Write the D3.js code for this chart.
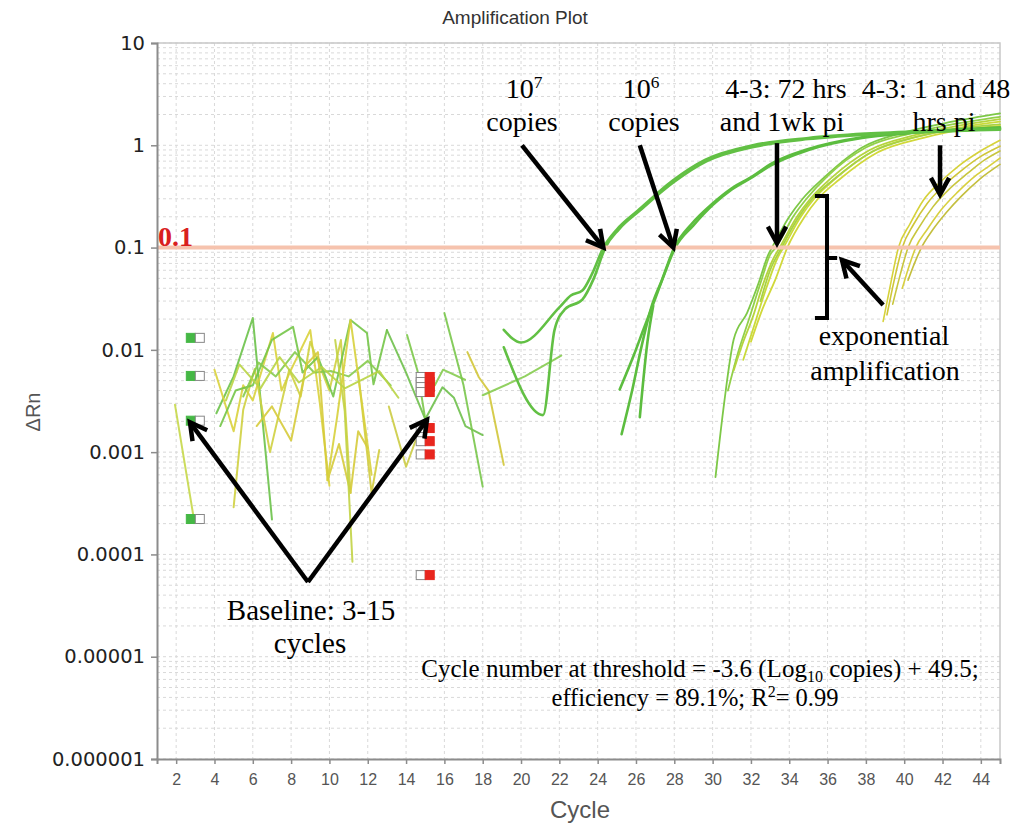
<!DOCTYPE html>
<html lang="en">
<head>
<meta charset="utf-8">
<title>Amplification Plot</title>
<script src="https://cdn.jsdelivr.net/npm/d3@7"></script>
<style>
  body { margin: 0; background: #fff; }
  svg { display: block; }
</style>
</head>
<body>
<script>
// ---- data ----
var xTicks = [2,4,6,8,10,12,14,16,18,20,22,24,26,28,30,32,34,36,38,40,42,44];
var yTicks = [10, 1, 0.1, 0.01, 0.001, 0.0001, 0.00001, 0.000001];
var yTickLabels = ["10","1","0.1","0.01","0.001","0.0001","0.00001","0.000001"];
var threshold = 0.1;

// baseline window markers (cycle 3 start, cycle 15 end)
var baselineStart = 3, baselineEnd = 15;
var startMarks = [0.0131, 0.00556, 0.00203, 0.000222];
var endMarks = [0.00543, 0.00485, 0.00433, 0.00387, 0.00172, 0.00128, 0.00095, 0.0000628];

// baseline noise, [cycle, dRn]
var noiseCurves = [
  [[1.94,0.0029],[2.88,0.00025]],
  [[4.1,0.0024],[5.0,0.0055],[6.0,0.0205],[7.0,0.00022]],
  [[4.0,0.0064],[5.0,0.0016],[5.5,0.0045],[6.0,0.0032],[7.05,0.0146],[7.5,0.004],[8.0,0.0064],[9.0,0.0156],[9.5,0.003],[10.0,0.00047]],
  [[5.0,0.00029],[5.5,0.0026],[6.1,0.0065],[6.9,0.001],[7.9,0.0064],[8.5,0.0035],[9.0,0.012],[10.0,0.004],[10.6,0.0125],[11.1,0.0004]],
  [[4.3,0.0018],[5.1,0.004],[6.0,0.0045],[7.0,0.0125],[8.1,0.0168],[8.6,0.006],[9.4,0.0085],[10.2,0.0035],[11.1,0.0196],[11.96,0.0146],[12.3,0.0046],[13.0,0.0156]],
  [[5.5,0.0035],[6.3,0.0075],[7.2,0.0055],[8.2,0.0095],[9.2,0.006],[10.1,0.0062],[11.0,0.0055],[12.0,0.0078],[13.2,0.0045]],
  [[6.2,0.0018],[7.0,0.0028],[8.0,0.0013],[8.8,0.0072],[9.4,0.0095],[9.9,0.00053],[10.5,0.0012],[11.1,0.0004],[11.5,0.0016],[12.0,0.0011]],
  [[10.3,0.0125],[10.8,0.0025],[11.2,0.000085]],
  [[11.5,0.006],[12.2,0.0004],[12.6,0.00105]],
  [[13.0,0.0156],[14.0,0.006],[15.0,0.0021],[15.9,0.0043],[16.5,0.0034],[17.1,0.0018],[18.0,0.00147]],
  [[14.05,0.014],[14.6,0.0062],[15.0,0.0021]],
  [[15.5,0.0045],[15.93,0.0064],[17.08,0.0051]],
  [[16.0,0.0229],[17.0,0.0045],[18.0,0.00046]],
  [[13.1,0.0028],[14.0,0.00072],[14.5,0.0013]],
  [[17.2,0.0095],[17.8,0.0054],[18.3,0.004],[19.1,0.00075]],
  [[18.0,0.0036],[20.2,0.0055],[22.1,0.0088]],
  [[9.9,0.00053],[10.4,0.0022],[11.1,0.0196],[11.9,0.0016],[12.2,0.0006]],
  [[4.6,0.0032],[5.3,0.0072],[6.4,0.0042],[7.4,0.0085],[8.4,0.0048],[9.6,0.0068],[10.8,0.0042],[12.6,0.0062],[13.6,0.0034]]
];
var noiseColors = ["#c6d84a","#6cc24a","#d9d23c","#cfd040","#74c548","#86cb4c","#d6cb3b",
  "#c2d345","#d2cc3e","#6fc04c","#7cc84a","#86cc50","#79c64b","#cccc44","#d2c63a","#86cc50","#d7d03c","#b9d445"];

// 10^7 copies
var curves1e7 = [
  [[19.1,0.0157],[20.0,0.0118],[22.0,0.026],[22.6,0.034],[23.2,0.038],[23.7,0.055],[24.3,0.1],[25.0,0.15],[26.1,0.23],[27.9,0.45],[29.6,0.72],[32.1,1.0],[35,1.18],[38,1.3],[41,1.38],[45,1.45]],
  [[19.1,0.0106],[21.15,0.0023],[21.75,0.0157],[22.3,0.025],[23.2,0.031],[23.8,0.05],[24.4,0.1],[25.1,0.15],[26.2,0.23],[28,0.44],[29.7,0.7],[32.2,0.97],[35,1.15],[38,1.27],[41,1.35],[45,1.42]]
];
// 10^6 copies
var curves1e6 = [
  [[25.25,0.0015],[25.8,0.004],[26.3,0.011],[26.8,0.026],[27.35,0.048],[28.0,0.1],[28.9,0.17],[30,0.27],[31,0.38],[32.1,0.5],[33,0.65],[35,0.92],[37.8,1.2],[40,1.33],[42.5,1.42],[45,1.5]],
  [[25.15,0.0041],[25.9,0.009],[26.4,0.016],[26.9,0.028],[27.4,0.05],[28.05,0.1],[29,0.165],[30,0.26],[31,0.37],[32.1,0.49],[33,0.63],[35,0.9],[37.8,1.18],[40,1.3],[42.5,1.38],[45,1.45]],
  [[26.2,0.0022],[26.6,0.012],[26.9,0.027]]
];
// 4-3: 72 hrs and 1 wk pi
var curves72h = [
  [[30.15,0.00057],[30.6,0.003],[31.1,0.0126],[31.8,0.023],[32.4,0.045],[32.9,0.085],[33.1,0.1],[34.0,0.2],[34.7,0.3],[35.8,0.48],[37.8,0.95],[40.1,1.35],[42.5,1.7],[45,2.05]],
  [[30.8,0.004],[31.3,0.009],[31.9,0.02],[32.5,0.045],[33.0,0.085],[33.3,0.1],[34.2,0.2],[34.9,0.3],[36,0.5],[38,0.95],[40.3,1.3],[42.5,1.6],[45,1.9]],
  [[31.1,0.0063],[31.6,0.012],[32.1,0.021],[32.6,0.042],[33.2,0.08],[33.5,0.1],[34.4,0.2],[35.1,0.3],[36.2,0.48],[38.2,0.9],[40.5,1.25],[42.8,1.55],[45,1.8]],
  [[31.6,0.008],[32.2,0.018],[32.8,0.04],[33.4,0.08],[33.7,0.1],[34.6,0.2],[35.3,0.3],[36.4,0.47],[38.4,0.88],[40.7,1.22],[43,1.5],[45,1.7]],
  [[32.5,0.03],[33.0,0.06],[33.6,0.1],[34.5,0.2],[35.2,0.3],[36.3,0.46],[38.3,0.86],[40.6,1.2],[42.8,1.45],[45,1.6]],
  [[32.0,0.012],[32.6,0.025],[33.3,0.05],[33.9,0.1],[34.8,0.2],[35.5,0.3],[36.6,0.46],[38.6,0.85],[41,1.18],[43,1.42],[45,1.55]]
];
var colors72h = ["#7dc847","#92d04a","#b5d43e","#c9da3a","#a7d244","#d1d83a"];
// 4-3: 1 and 48 hrs pi
var curves1h48h = [
  [[38.9,0.019],[39.3,0.045],[39.7,0.1],[40.3,0.17],[41.0,0.29],[41.9,0.44],[42.8,0.62],[43.9,0.86],[45,1.12]],
  [[39.1,0.022],[39.5,0.05],[39.9,0.1],[40.5,0.17],[41.2,0.27],[42.1,0.41],[43.0,0.57],[44.0,0.78],[45,0.98]],
  [[39.4,0.028],[39.8,0.055],[40.2,0.1],[40.8,0.16],[41.5,0.25],[42.4,0.38],[43.3,0.53],[44.2,0.72],[45,0.88]],
  [[39.9,0.04],[40.3,0.07],[40.6,0.1],[41.2,0.15],[41.9,0.23],[42.8,0.35],[43.7,0.5],[44.5,0.64],[45,0.75]],
  [[40.2,0.048],[40.6,0.075],[40.9,0.1],[41.5,0.15],[42.2,0.22],[43.0,0.32],[43.9,0.46],[45,0.65]]
];
var colors1h48h = ["#d6d23a","#cfc638","#c8c63e","#d8d040","#c4bf3e"];

// ---- drawing ----
var w = 1029, h = 825;
var x = d3.scaleLinear().domain([1, 45]).range([157, 1000]);
var y = d3.scaleLog().domain([1e-6, 10]).range([759, 43]);

var svg = d3.select("body").append("svg")
  .attr("width", w).attr("height", h);

var serif = "'Liberation Serif', 'Times New Roman', serif";
var sans = "'Liberation Sans', Arial, sans-serif";

// grid
var grid = svg.append("g").attr("stroke", "#d9d9d9").attr("stroke-dasharray", "3,3").attr("stroke-width", 1);
grid.selectAll("line.h").data(y.ticks()).enter().append("line")
  .attr("x1", x(1)).attr("x2", x(45))
  .attr("y1", function(d){ return y(d); }).attr("y2", function(d){ return y(d); });
grid.selectAll("line.v").data(xTicks).enter().append("line")
  .attr("y1", y(10)).attr("y2", y(1e-6))
  .attr("x1", function(d){ return x(d); }).attr("x2", function(d){ return x(d); });

// frame
svg.append("path")
  .attr("d", "M" + x(1) + "," + y(10) + "H" + x(45) + "V" + y(1e-6))
  .attr("fill", "none").attr("stroke", "#c8c8c8").attr("stroke-width", 1.5);

// curves
var line = d3.line().x(function(d){ return x(d[0]); }).y(function(d){ return y(d[1]); });
var smooth = d3.line().curve(d3.curveMonotoneX).x(function(d){ return x(d[0]); }).y(function(d){ return y(d[1]); });

var curveG = svg.append("g").attr("fill", "none").attr("stroke-linejoin", "round").attr("stroke-linecap", "round");
curveG.selectAll("path.noise").data(noiseCurves).enter().append("path")
  .attr("d", line)
  .attr("stroke", function(d, i){ return noiseColors[i % noiseColors.length]; })
  .attr("stroke-width", 2).attr("opacity", 0.9);

curveG.selectAll("path.late").data(curves1h48h).enter().append("path")
  .attr("d", smooth)
  .attr("stroke", function(d, i){ return colors1h48h[i]; })
  .attr("stroke-width", 1.6);

curveG.selectAll("path.mid").data(curves72h).enter().append("path")
  .attr("d", smooth)
  .attr("stroke", function(d, i){ return colors72h[i]; })
  .attr("stroke-width", 1.8);

curveG.selectAll("path.e6").data(curves1e6).enter().append("path")
  .attr("d", smooth)
  .attr("stroke", "#5cbd3f").attr("stroke-width", 2.6);

curveG.selectAll("path.e7").data(curves1e7).enter().append("path")
  .attr("d", smooth)
  .attr("stroke", "#62c044").attr("stroke-width", 2.6);

// threshold
svg.append("line")
  .attr("x1", x(1)).attr("x2", x(45))
  .attr("y1", y(threshold)).attr("y2", y(threshold))
  .attr("stroke", "#f6c3ae").attr("stroke-width", 4);
svg.append("text")
  .attr("x", x(1) + 1).attr("y", y(threshold) - 2)
  .attr("font-family", serif).attr("font-weight", "bold").attr("font-size", 28)
  .attr("fill", "#d9201e").text("0.1");

// baseline markers
function marker(c, v, col, filledLeft) {
  var cx = x(c), cy = y(v), s = 9;
  var g = svg.append("g");
  g.append("rect").attr("x", cx - s).attr("y", cy - s / 2).attr("width", s).attr("height", s)
    .attr("fill", filledLeft ? col : "#fff").attr("stroke", filledLeft ? col : "#888").attr("stroke-width", 1);
  g.append("rect").attr("x", cx).attr("y", cy - s / 2).attr("width", s).attr("height", s)
    .attr("fill", filledLeft ? "#fff" : col).attr("stroke", filledLeft ? "#888" : col).attr("stroke-width", 1);
}
startMarks.forEach(function(v){ marker(baselineStart, v, "#45b845", true); });
endMarks.forEach(function(v){ marker(baselineEnd, v, "#e8261e", false); });

// axes
var yAxis = d3.axisLeft(y).tickValues(yTicks).tickSize(6)
  .tickFormat(function(d, i){ return yTickLabels[i]; });
var ya = svg.append("g").attr("transform", "translate(" + x(1) + ",0)").call(yAxis);
ya.select(".domain").attr("stroke", "#8c8c8c").attr("stroke-width", 2);
ya.selectAll(".tick line").attr("stroke", "#8c8c8c").attr("stroke-width", 1.5);
ya.selectAll("text").attr("font-family", "'DejaVu Sans', sans-serif").attr("font-size", 19.5)
  .attr("fill", "#222").attr("x", -12);

var xAxis = d3.axisBottom(x).tickValues(xTicks).tickSize(5);
var xa = svg.append("g").attr("transform", "translate(0," + y(1e-6) + ")").call(xAxis);
xa.select(".domain").attr("stroke", "#8c8c8c").attr("stroke-width", 2);
xa.selectAll(".tick line").attr("stroke", "#8c8c8c").attr("stroke-width", 1.5);
xa.selectAll("text").attr("font-family", "'Liberation Sans Narrow', 'Liberation Sans', sans-serif")
  .attr("font-size", 16).attr("fill", "#555").attr("y", 15);

// titles
svg.append("text").attr("x", 515).attr("y", 24).attr("text-anchor", "middle")
  .attr("font-family", sans).attr("font-size", 19).attr("fill", "#333").text("Amplification Plot");
svg.append("text").attr("x", 580).attr("y", 818).attr("text-anchor", "middle")
  .attr("font-family", sans).attr("font-size", 24).attr("fill", "#555").text("Cycle");
svg.append("text").attr("transform", "translate(40,412) rotate(-90)").attr("text-anchor", "middle")
  .attr("font-family", sans).attr("font-size", 20).attr("fill", "#555").text("\u0394Rn");

// annotations
var ann = svg.append("g");
function arrow(x1, y1, x2, y2) {
  var a = Math.atan2(y2 - y1, x2 - x1), L = 19, s = 0.5;
  ann.append("line").attr("x1", x1).attr("y1", y1).attr("x2", x2 - 2 * Math.cos(a)).attr("y2", y2 - 2 * Math.sin(a))
    .attr("stroke", "#000").attr("stroke-width", 4.5);
  var p1 = [x2 - L * Math.cos(a - s), y2 - L * Math.sin(a - s)];
  var p2 = [x2 - L * Math.cos(a + s), y2 - L * Math.sin(a + s)];
  ann.append("path").attr("d", "M" + p1 + "L" + x2 + "," + y2 + "L" + p2)
    .attr("fill", "none").attr("stroke", "#000").attr("stroke-width", 4.5).attr("stroke-linejoin", "miter");
}
function label(cx, by, txt, size, sup) {
  size = size || 28;
  var t = ann.append("text").attr("x", cx).attr("y", by).attr("text-anchor", "middle")
    .attr("font-family", serif).attr("font-size", size).attr("fill", "#000");
  t.append("tspan").text(txt);
  if (sup) t.append("tspan").attr("font-size", size * 0.62).attr("dy", -size * 0.36).text(sup);
  return t;
}

label(524, 98, "10", 28, "7");
label(522, 131, "copies");
label(641, 98, "10", 28, "6");
label(644, 131, "copies");
label(786, 98, "4-3: 72 hrs");
label(782, 131, "and 1wk pi");
label(936, 98, "4-3: 1 and 48");
label(944, 131, "hrs pi");
label(884, 345, "exponential");
label(885, 380, "amplification");
label(311, 620, "Baseline: 3-15", 29);
label(310, 653, "cycles", 29);

// arrows pointing at curve locations
arrow(x(20.05), y(1.0), x(24.3), y(threshold));
arrow(x(26.2), y(1.0), x(27.95), y(threshold));
arrow(x(33.36), y(1.05), x(33.36), y(0.11));
arrow(x(41.87), y(1.0), x(41.87), y(0.33));
arrow(x(8.88), y(0.0000538), x(2.72), y(0.00196));
arrow(x(8.88), y(0.0000538), x(15.09), y(0.00207));
// bracket over exponential region
ann.append("path")
  .attr("d", "M" + x(35.34) + "," + y(0.319) + "H" + x(35.97) + "V" + y(0.0205) + "H" + x(35.34)
    + "M" + x(35.97) + "," + y(0.079) + "H" + x(36.5))
  .attr("fill", "none").attr("stroke", "#000").attr("stroke-width", 4);
arrow(x(38.9), y(0.0274), x(36.75), y(0.0755));

// regression note
var note = ann.append("text").attr("x", 700).attr("y", 677).attr("text-anchor", "middle")
  .attr("font-family", serif).attr("font-size", 25).attr("fill", "#000");
note.append("tspan").text("Cycle number at threshold = -3.6 (Log");
note.append("tspan").attr("font-size", 16).attr("dy", 5).text("10");
note.append("tspan").attr("dy", -5).text(" copies) + 49.5;");
var note2 = ann.append("text").attr("x", 695).attr("y", 706).attr("text-anchor", "middle")
  .attr("font-family", serif).attr("font-size", 24.5).attr("fill", "#000");
note2.append("tspan").text("efficiency = 89.1%; R");
note2.append("tspan").attr("font-size", 16).attr("dy", -9).text("2");
note2.append("tspan").attr("dy", 9).text("= 0.99");
</script>
</body>
</html>
